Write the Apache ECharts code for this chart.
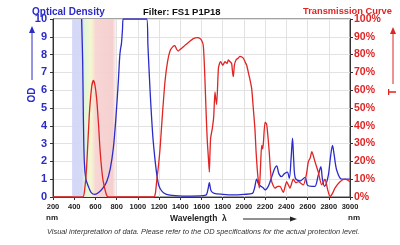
<!DOCTYPE html>
<html>
<head>
<meta charset="utf-8">
<script src="https://cdn.jsdelivr.net/npm/echarts@6/dist/echarts.min.js"></script>
<style>
  html, body { margin: 0; padding: 0; background: #fff; }
  #chart { width: 400px; height: 245px; }
</style>
</head>
<body>
<div id="chart"></div>
<script>
// optical density curve (wavelength nm / OD)
const odWl = [470, 480, 486, 495, 510, 533, 560, 596, 630, 670, 706, 740, 769, 790, 816, 828, 836, 845, 855, 863,
  1083, 1095, 1115, 1140, 1160, 1180, 1200, 1230, 1270, 1350, 1500, 1640, 1660, 1674, 1690, 1720, 1800, 1900, 2000,
  2080, 2100, 2120, 2140, 2160, 2183, 2200, 2230, 2260, 2290, 2309, 2330, 2356, 2380, 2409, 2428, 2445, 2458, 2470,
  2485, 2529, 2576, 2600, 2640, 2670, 2700, 2725, 2740, 2760, 2795, 2815, 2835, 2850, 2875, 2922, 2969, 3000];
const odVal = [10, 7.5, 4.6, 2.0, 1.0, 0.6, 0.25, 0.15, 0.25, 0.5, 0.86, 1.6, 2.75, 4.2, 6.5, 7.8, 8.3, 8.6, 9.4, 10,
  10, 8.5, 6, 3.5, 2.2, 1.2, 0.6, 0.3, 0.15, 0.08, 0.05, 0.1, 0.4, 0.8, 0.35, 0.2, 0.15, 0.12, 0.15,
  0.2, 0.5, 1.0, 0.7, 0.6, 0.5, 0.4, 0.6, 1.1, 1.6, 1.75, 1.3, 1.14, 1.3, 1.4, 1.05, 2.2, 3.3, 2.0,
  1.05, 0.9, 1.1, 0.65, 0.6, 0.6, 1.2, 1.7, 1.0, 0.6, 1.2, 2.2, 2.9, 2.4, 1.5, 1.0, 1.0, 1.0];

// transmission curve (wavelength nm / %)
const tWl = [200, 480, 500, 518, 542, 565, 580, 595, 612, 630, 643, 660, 674, 700, 721, 1150, 1165, 1177, 1195, 1209,
  1230, 1256, 1280, 1303, 1330, 1350, 1365, 1381, 1400, 1413, 1440, 1460, 1490, 1523, 1560, 1586, 1605, 1617, 1625,
  1633, 1645, 1655, 1665, 1674, 1680, 1686, 1702, 1715, 1727, 1735, 1743, 1759, 1770, 1781, 1800, 1822, 1840, 1853,
  1870, 1884, 1893, 1900, 1910, 1925, 1945, 1963, 1994, 2010, 2026, 2045, 2057, 2073, 2088, 2104, 2114, 2125, 2136,
  2146, 2157, 2167, 2175, 2183, 2199, 2214, 2228, 2240, 2250, 2262, 2293, 2320, 2340, 2371, 2403, 2434, 2465, 2490,
  2512, 2560, 2590, 2607, 2625, 2640, 2655, 2670, 2701, 2733, 2764, 2790, 2811, 2835, 2858, 2906, 2953, 3000];
const tVal = [0, 0, 5, 18, 46, 62, 65.5, 63, 55, 40, 27, 15, 8.6, 2, 0, 0, 2, 8.6, 18, 27,
  45, 65, 76, 82, 84.5, 85, 83, 82, 83, 83.5, 85, 86, 87.5, 89, 89.5, 89, 87.5, 85, 77,
  65, 45, 31, 22, 14, 25, 33, 38.6, 45, 59, 55, 52, 72, 75, 76, 74, 76, 75, 77,
  76, 75, 70, 67.6, 74, 77, 78, 79, 78, 76, 74, 69, 66, 61, 50, 38, 26, 16, 9,
  5, 18, 29, 27, 30, 42, 41, 33, 24, 15, 8.6, 5, 6, 6, 2.6, 8.6, 5, 10, 8,
  8.6, 6.8, 13, 19.8, 22, 25.5, 23, 19.8, 14, 6.8, 10, 4, 0.2, 2, 5, 8.6, 10, 8.6];

const xTicks = [200, 400, 600, 800, 1000, 1200, 1400, 1600, 1800, 2000, 2200, 2400, 2600, 2800, 3000];

const blue = '#2b2bc8';
const red = '#e02424';
const font = 'Liberation Sans';

let myChart = echarts.init(document.getElementById('chart'));

myChart.setOption({
  animation: false,
  grid: { left: 53, right: 50, top: 19, bottom: 48, show: true, borderColor: '#444', borderWidth: 1 },
  title: [
    { text: 'Optical Density', left: 27, top: 2, textStyle: { color: blue, fontSize: 10, fontWeight: 'bold', fontFamily: font } },
    { text: 'Filter: FS1 P1P18', left: 138, top: 2, textStyle: { color: '#111', fontSize: 9.5, fontWeight: 'bold', fontFamily: font } },
    { text: 'Transmission Curve', left: 298, top: 2, textStyle: { color: red, fontSize: 9.3, fontWeight: 'bold', fontFamily: font } }
  ],
  xAxis: {
    type: 'value', min: 200, max: 3000, interval: 200,
    axisLine: { lineStyle: { color: '#333' } },
    axisTick: { length: 3, lineStyle: { color: '#333' } },
    axisLabel: {
      color: '#222', fontSize: 7.5, fontWeight: 'bold', fontFamily: font, margin: 6,
      formatter: v => xTicks.includes(v) ? String(v) : ''
    },
    splitLine: { lineStyle: { color: '#e2e2e2' } }
  },
  yAxis: [
    {
      type: 'value', min: 0, max: 10, interval: 1,
      axisLine: { show: true, lineStyle: { color: '#333' } },
      axisTick: { show: true, length: 3, lineStyle: { color: '#333' } },
      axisLabel: { color: blue, fontSize: 11, fontWeight: 'bold', fontFamily: font, margin: 6 },
      splitLine: { lineStyle: { color: '#e2e2e2' } }
    },
    {
      type: 'value', min: 0, max: 100, interval: 10, position: 'right',
      axisLine: { show: true, lineStyle: { color: '#333' } },
      axisTick: { show: true, length: 3, lineStyle: { color: '#333' } },
      axisLabel: { color: red, fontSize: 10.5, fontWeight: 'bold', fontFamily: font, margin: 4, formatter: '{value}%' },
      splitLine: { show: false }
    }
  ],
  series: [
    {
      type: 'line', yAxisIndex: 0, showSymbol: false, smooth: 0.3,
      data: odWl.map((w, i) => [w, odVal[i]]),
      lineStyle: { color: blue, width: 1.3 },
      z: 3,
      markArea: {
        silent: true,
        data: [[
          {
            xAxis: 380,
            itemStyle: {
              color: new echarts.graphic.LinearGradient(0, 0, 1, 0, [
                { offset: 0, color: 'rgba(212,214,247,0.95)' },
                { offset: 0.22, color: 'rgba(212,214,247,0.95)' },
                { offset: 0.29, color: 'rgba(222,245,216,0.95)' },
                { offset: 0.43, color: 'rgba(246,246,205,0.95)' },
                { offset: 0.54, color: 'rgba(247,212,210,0.95)' },
                { offset: 0.92, color: 'rgba(244,205,205,0.95)' },
                { offset: 1, color: 'rgba(244,214,214,0.3)' }
              ])
            }
          },
          { xAxis: 795 }
        ]]
      }
    },
    {
      type: 'line', yAxisIndex: 1, showSymbol: false, smooth: 0.2,
      data: tWl.map((w, i) => [w, tVal[i]]),
      lineStyle: { color: red, width: 1.3 },
      z: 4
    }
  ],
  graphic: [
    // OD axis name with arrow
    { type: 'line', shape: { x1: 32, y1: 30, x2: 32, y2: 80 }, style: { stroke: blue, lineWidth: 1 } },
    { type: 'polygon', shape: { points: [[29, 33], [35, 33], [32, 26]] }, style: { fill: blue } },
    { type: 'text', x: 32, y: 95, rotation: Math.PI / 2, style: { text: 'OD', fill: blue, font: 'bold 10px "Liberation Sans"', align: 'center', verticalAlign: 'middle' } },
    // T axis name with arrow
    { type: 'line', shape: { x1: 393, y1: 31, x2: 393, y2: 84 }, style: { stroke: red, lineWidth: 1 } },
    { type: 'polygon', shape: { points: [[390, 34], [396, 34], [393, 27]] }, style: { fill: red } },
    { type: 'text', x: 393, y: 92, rotation: Math.PI / 2, style: { text: 'T', fill: red, font: 'bold 10px "Liberation Sans"', align: 'center', verticalAlign: 'middle' } },
    // nm units
    { type: 'text', x: 46, y: 218, style: { text: 'nm', fill: '#222', font: 'bold 8px "Liberation Sans"', verticalAlign: 'middle' } },
    { type: 'text', x: 348, y: 218, style: { text: 'nm', fill: '#222', font: 'bold 8px "Liberation Sans"', verticalAlign: 'middle' } },
    // wavelength label with arrow
    { type: 'text', x: 170, y: 219, style: { text: 'Wavelength  λ', fill: '#222', font: 'bold 8.5px "Liberation Sans"', verticalAlign: 'middle' } },
    { type: 'line', shape: { x1: 243, y1: 219, x2: 292, y2: 219 }, style: { stroke: '#222', lineWidth: 1 } },
    { type: 'polygon', shape: { points: [[290, 216.5], [290, 221.5], [297, 219]] }, style: { fill: '#222' } },
    // footnote
    { type: 'text', x: 47, y: 232, style: { text: 'Visual interpretation of data. Please refer to the OD specifications for the actual protection level.', fill: '#333', font: 'italic 7.4px "Liberation Sans"', verticalAlign: 'middle' } }
  ]
});
</script>
</body>
</html>
